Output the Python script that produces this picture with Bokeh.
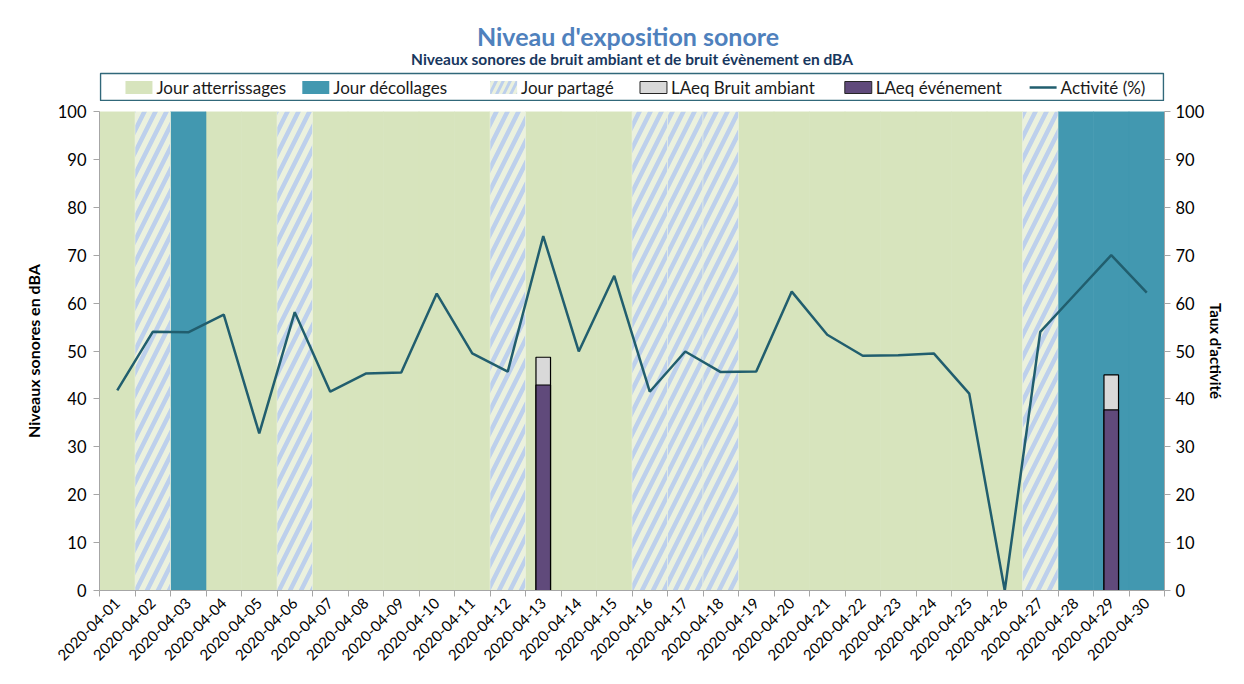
import math
from bokeh.plotting import figure
from bokeh.layouts import column
from bokeh.models import (ColumnDataSource, Range1d, LinearAxis, FixedTicker, Label)
from bokeh.core.properties import value
from bokeh.embed import file_html
from bokeh.resources import INLINE

# ---------------- data ----------------
dates = ["2020-04-01", "2020-04-02", "2020-04-03", "2020-04-04", "2020-04-05",
         "2020-04-06", "2020-04-07", "2020-04-08", "2020-04-09", "2020-04-10",
         "2020-04-11", "2020-04-12", "2020-04-13", "2020-04-14", "2020-04-15",
         "2020-04-16", "2020-04-17", "2020-04-18", "2020-04-19", "2020-04-20",
         "2020-04-21", "2020-04-22", "2020-04-23", "2020-04-24", "2020-04-25",
         "2020-04-26", "2020-04-27", "2020-04-28", "2020-04-29", "2020-04-30"]
# A = atterrissages, D = décollages, P = partagé
day_type = ["A", "P", "D", "A", "A", "P", "A", "A", "A", "A",
            "A", "P", "A", "A", "A", "P", "P", "P", "A", "A",
            "A", "A", "A", "A", "A", "A", "P", "D", "D", "D"]
activite = [41.8, 54.0, 53.9, 57.6, 32.8, 58.1, 41.5, 45.3, 45.5, 62.0,
            49.5, 45.7, 74.0, 49.9, 65.7, 41.5, 49.9, 45.6, 45.7, 62.4,
            53.4, 49.0, 49.1, 49.5, 41.1, 0.0, 54.0, 62.0, 70.0, 62.2]
laeq_ambiant = [None] * 12 + [48.7] + [None] * 15 + [45.0] + [None]
laeq_evenement = [None] * 12 + [42.9] + [None] * 15 + [37.7] + [None]
y_ticks = [0, 10, 20, 30, 40, 50, 60, 70, 80, 90, 100]
title_text = "Niveau d'exposition sonore"
subtitle_text = "Niveaux sonores de bruit ambiant et de bruit évènement en dBA"
legend_labels = ["Jour atterrissages", "Jour décollages", "Jour partagé",
                 "LAeq Bruit ambiant", "LAeq événement", "Activité (%)"]

# ---------------- styles / layout ----------------
FONT = "Lato"
C_ATT = "#D7E4BD"
C_DEC = "#4298B0"
C_PART_BG = "#EBF1DE"
C_PART_HATCH = "#BDD0EC"
C_LINE = "#215E6E"
C_AMB = "#D9D9D9"
C_EVT = "#604A7B"
C_AXIS = "#A6A6A6"
C_BOX = "#31687A"

W = 1228
HDR_H = 101
MAIN_H = 668 - HDR_H
BL, BR, BT = 99, 63, 10
BB = MAIN_H - BT - 479
legend_x = [125, 302, 490, 640, 845, 1030]   # swatch left edges (px)
LEG_Y = 87

n = len(dates)
centers = [i + 0.5 for i in range(n)]
nan = float("nan")

def sub(code):
    xs = [centers[i] for i in range(n) if day_type[i] == code]
    return ColumnDataSource(dict(x=xs))

# ---------------- main plot ----------------
p = figure(width=W, height=MAIN_H, output_backend="svg", toolbar_location=None,
           x_range=Range1d(0, n), y_range=Range1d(0, 100),
           min_border_left=BL, min_border_right=BR, min_border_top=BT,
           min_border_bottom=BB, title=None)
p.outline_line_color = None
p.xgrid.visible = False
p.ygrid.visible = False

p.vbar(x="x", width=1, top=100, bottom=0, source=sub("A"),
       fill_color=C_ATT, line_color=C_ATT, line_width=0.6)
p.vbar(x="x", width=1, top=100, bottom=0, source=sub("D"),
       fill_color=C_DEC, line_color=C_DEC, line_width=0.6)
p.vbar(x="x", width=1, top=100, bottom=0, source=sub("P"),
       fill_color=C_PART_BG, line_color=C_PART_BG, line_width=0.6,
       hatch_pattern="/", hatch_color=C_PART_HATCH, hatch_weight=4.5, hatch_scale=22)

bars = ColumnDataSource(dict(
    x=centers,
    amb=[nan if v is None else v for v in laeq_ambiant],
    evt=[nan if v is None else v for v in laeq_evenement]))
p.vbar(x="x", width=0.41, top="amb", bottom=0, source=bars,
       fill_color=C_AMB, line_color="black", line_width=1.2)
p.vbar(x="x", width=0.41, top="evt", bottom=0, source=bars,
       fill_color=C_EVT, line_color="black", line_width=1.2)

p.extra_y_ranges = {"act": Range1d(0, 100)}
p.line(x=centers, y=activite, y_range_name="act", line_color=C_LINE, line_width=2.5)

ax_x = p.xaxis[0]
ax_x.ticker = FixedTicker(ticks=centers, minor_ticks=list(range(n + 1)))
ax_x.major_label_overrides = {c: d for c, d in zip(centers, dates)}
ax_x.major_tick_line_color = None
ax_x.minor_tick_line_color = C_AXIS
ax_x.minor_tick_out = 6
ax_x.minor_tick_in = 0
ax_x.axis_line_color = C_AXIS
ax_x.major_label_orientation = math.pi / 4
ax_x.major_label_text_font = FONT
ax_x.major_label_text_font_size = "15px"
ax_x.major_label_text_color = "black"
ax_x.major_label_standoff = 4

def style_y(ax, label, label_standoff, tick_standoff, label_size):
    ax.ticker = FixedTicker(ticks=y_ticks)
    ax.axis_label = label
    ax.axis_label_text_font = FONT
    ax.axis_label_text_font_style = "bold"
    ax.axis_label_text_font_size = label_size
    ax.axis_label_text_color = "black"
    ax.axis_label_standoff = label_standoff
    ax.major_label_text_font = FONT
    ax.major_label_text_font_size = "16.5px"
    ax.major_label_text_color = "black"
    ax.major_label_standoff = tick_standoff
    ax.major_tick_out = 6
    ax.major_tick_in = 0
    ax.minor_tick_line_color = None
    ax.axis_line_color = C_AXIS
    ax.major_tick_line_color = C_AXIS

style_y(p.yaxis[0], "Niveaux sonores en dBA", 12, 7, "16px")
ax_r = LinearAxis(y_range_name="act")
style_y(ax_r, "Taux d'activité", 0, 5, "15px")
p.add_layout(ax_r, "right")

# ---------------- header (titles + legend) ----------------
# frames of figures in a column are aligned: header frame spans x in [BL, W-BR]
hdr = figure(width=W, height=HDR_H, output_backend="svg", toolbar_location=None,
             x_range=Range1d(BL, W - BR), y_range=Range1d(HDR_H, 0),
             x_axis_location=None, y_axis_location=None, min_border=0,
             min_border_left=BL, min_border_right=BR, title=None)
hdr.outline_line_color = None
hdr.grid.visible = False

hdr.add_layout(Label(x=628, y=35, text=title_text, text_align="center",
                     text_baseline="middle", text_font=FONT, text_font_style="bold",
                     text_font_size="25px", text_color="#4F81BD"))
hdr.add_layout(Label(x=632, y=58, text=subtitle_text, text_align="center",
                     text_baseline="middle", text_font=FONT, text_font_style="bold",
                     text_font_size="15.5px", text_color="#17375E"))

hdr.quad(left=BL + 1, right=W - BR - 1, top=73, bottom=HDR_H - 1, fill_color=None,
         line_color=C_BOX, line_width=1.5)
sw = 27
hdr.quad(left=legend_x[0], right=legend_x[0] + sw, top=LEG_Y - 6.5, bottom=LEG_Y + 6.5,
         fill_color=C_ATT, line_color=None)
hdr.quad(left=legend_x[1], right=legend_x[1] + sw, top=LEG_Y - 6.5, bottom=LEG_Y + 6.5,
         fill_color=C_DEC, line_color=None)
hdr.quad(left=legend_x[2], right=legend_x[2] + sw, top=LEG_Y - 6.5, bottom=LEG_Y + 6.5,
         fill_color=C_PART_BG, line_color=None, hatch_pattern="/",
         hatch_color=C_PART_HATCH, hatch_weight=3, hatch_scale=14)
hdr.quad(left=legend_x[3], right=legend_x[3] + sw, top=LEG_Y - 6, bottom=LEG_Y + 6,
         fill_color=C_AMB, line_color="#262626", line_width=1)
hdr.quad(left=legend_x[4], right=legend_x[4] + sw, top=LEG_Y - 6, bottom=LEG_Y + 6,
         fill_color=C_EVT, line_color="#262626", line_width=1)
hdr.segment(x0=legend_x[5], x1=legend_x[5] + sw, y0=LEG_Y, y1=LEG_Y,
            line_color=C_LINE, line_width=2.5)
hdr.text(x=[x + sw + 4 for x in legend_x], y=[LEG_Y] * len(legend_x), text=legend_labels,
         text_baseline="middle", text_align="left", text_font=value(FONT),
         text_font_size="17px", text_color="#1a1a1a")

layout = column(hdr, p, spacing=0)
open("out.html", "w").write(file_html(layout, INLINE))
